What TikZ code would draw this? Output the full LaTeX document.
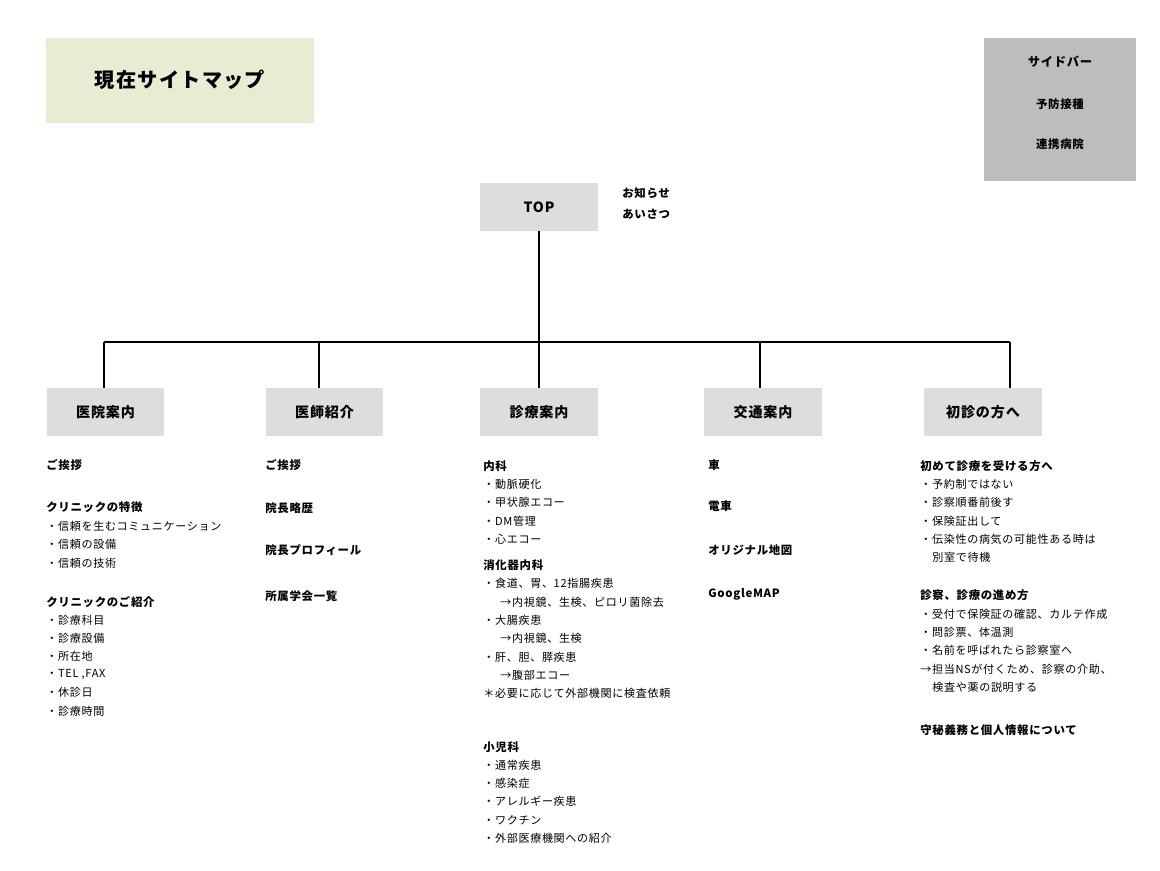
\documentclass[tikz,border=0pt]{standalone}
\usepackage{fontspec}
\setmainfont[LetterSpace=6]{Noto Sans CJK JP}
\usepackage{tikz}
\definecolor{titlebg}{HTML}{E9EBD3}
\definecolor{sidebg}{HTML}{BDBDBD}
\definecolor{boxbg}{HTML}{DDDDDD}
\tikzset{
  pagebox/.style={fill=boxbg,minimum width=2.36cm,minimum height=0.96cm,font=\fontsize{8}{9}\selectfont\bfseries},
  item/.style={anchor=west,inner sep=0pt,font=\fontsize{6.3}{7}\selectfont},
  head/.style={item,font=\fontsize{6.5}{7}\selectfont\bfseries},
  wire/.style={line width=1.1pt}
}
\begin{document}
\begin{tikzpicture}[x=0.02cm,y=-0.02cm]
    \useasboundingbox (0,0) rectangle (1160,870);
    \fill [titlebg] (46,38) rectangle (314,123);
    \node [font=\fontsize{11.5}{13}\selectfont\bfseries] (title) at (180,80) {現在サイトマップ};
    \fill [sidebg] (984,38) rectangle (1136,181);
    \node [font=\fontsize{7}{8}\selectfont\bfseries] (side) at (1060,62) {サイドバー};
    \node [font=\fontsize{6.5}{8}\selectfont\bfseries] (side1) at (1060,104) {予防接種};
    \node [font=\fontsize{6.5}{8}\selectfont\bfseries] (side2) at (1060,144) {連携病院};
    \node [pagebox] (top) at (539,207) {TOP};
    \node [head] (news) at (622,193) {お知らせ};
    \node [head] (greet) at (622,214) {あいさつ};
    \coordinate (hub) at (539,342);
    \coordinate (hl) at (104,342);
    \coordinate (hr) at (1010,342);
    \draw [wire] (top.south) -- (hub);
    \draw [wire] (hl) -- (hr);
    \node [pagebox] (clinic) at (105.5,412) {医院案内};
    \node [pagebox] (doctor) at (324.5,412) {医師紹介};
    \node [pagebox] (care) at (539,412) {診療案内};
    \node [pagebox] (access) at (763,412) {交通案内};
    \node [pagebox] (first) at (983,412) {初診の方へ};
    \foreach \n/\x in {clinic/104,doctor/319,care/539,access/760,first/1010}
      \draw [wire] (\x,342) -- (\x,388);
    % columns
    \foreach \y/\t in {465/ご挨拶,507/クリニックの特徴,602/クリニックのご紹介}
      \node [head] at (46,\y) {\t};
    \foreach \y/\t in {526/・信頼を生むコミュニケーション,544/・信頼の設備,563/・信頼の技術,620/・診療科目,638/・診療設備,656/・所在地,674/{・TEL ,FAX},692/・休診日,711/・診療時間}
      \node [item] at (46,\y) {\t};
    \foreach \y/\t in {465/ご挨拶,508/院長略歴,550/院長プロフィール,596/所属学会一覧}
      \node [head] at (265,\y) {\t};
    \foreach \y/\t in {466/内科,565/消化器内科,747/小児科}
      \node [head] at (483,\y) {\t};
    \foreach \y/\t in {484/・動脈硬化,502/・甲状腺エコー,521/・DM管理,539/・心エコー,583/・食道、胃、12指腸疾患,620/・大腸疾患,657/・肝、胆、膵疾患,693/＊必要に応じて外部機関に検査依頼,765/・通常疾患,783/・感染症,801/・アレルギー疾患,820/・ワクチン,838/・外部医療機関への紹介}
      \node [item] at (483,\y) {\t};
    \foreach \y/\t in {602/→内視鏡、生検、ピロリ菌除去,638/→内視鏡、生検,675/→腹部エコー}
      \node [item] at (500,\y) {\t};
    \foreach \y/\t in {465/車,506/電車,550/オリジナル地図,594/GoogleMAP}
      \node [head] at (708,\y) {\t};
    \foreach \y/\t in {466/初めて診療を受ける方へ,595/診察、診療の進め方,730/守秘義務と個人情報について}
      \node [head] at (920,\y) {\t};
    \foreach \y/\t in {484/・予約制ではない,502/・診察順番前後す,521/・保険証出して,539/・伝染性の病気の可能性ある時は,614/・受付で保険証の確認、カルテ作成,632/・問診票、体温測,650/・名前を呼ばれたら診察室へ,669/→担当NSが付くため、診察の介助、}
      \node [item] at (920,\y) {\t};
    \foreach \y/\t in {557/別室で待機,687/検査や薬の説明する}
      \node [item] at (932,\y) {\t};
\end{tikzpicture}
\end{document}
